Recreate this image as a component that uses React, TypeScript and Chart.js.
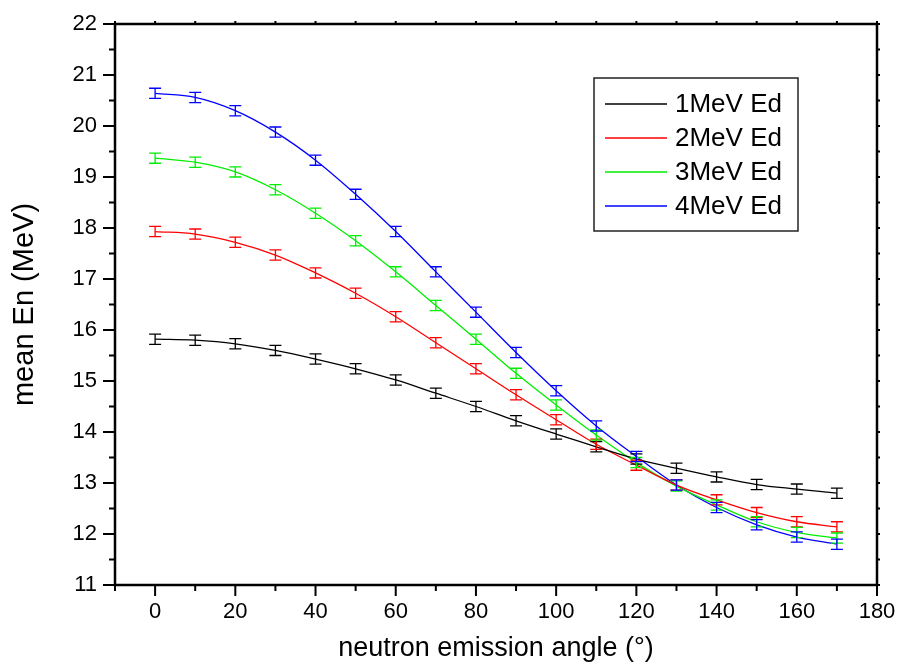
import React, { useEffect, useRef } from "react";
import { Chart, registerables } from "chart.js";

Chart.register(...registerables);

const ANGLES = [0, 10, 20, 30, 40, 50, 60, 70, 80, 90, 100, 110, 120, 130, 140, 150, 160, 170];
const E1 = [15.82, 15.80, 15.73, 15.60, 15.43, 15.24, 15.02, 14.76, 14.50, 14.22, 13.96, 13.71, 13.47, 13.29, 13.12, 12.97, 12.88, 12.80];
const E2 = [17.93, 17.88, 17.72, 17.47, 17.12, 16.72, 16.26, 15.75, 15.24, 14.73, 14.24, 13.76, 13.35, 12.96, 12.67, 12.42, 12.24, 12.14];
const E3 = [19.37, 19.29, 19.10, 18.75, 18.29, 17.75, 17.14, 16.48, 15.82, 15.15, 14.53, 13.94, 13.40, 12.94, 12.57, 12.24, 12.03, 11.92];
const E4 = [20.64, 20.56, 20.30, 19.88, 19.33, 18.66, 17.93, 17.14, 16.35, 15.56, 14.81, 14.12, 13.52, 12.96, 12.52, 12.18, 11.94, 11.80];
const ERR1 = [0.1, 0.1, 0.1, 0.1, 0.1, 0.1, 0.1, 0.1, 0.1, 0.1, 0.1, 0.1, 0.1, 0.1, 0.1, 0.1, 0.1, 0.1];
const ERR2 = [0.1, 0.1, 0.1, 0.1, 0.1, 0.1, 0.1, 0.1, 0.1, 0.1, 0.1, 0.1, 0.1, 0.1, 0.1, 0.1, 0.1, 0.1];
const ERR3 = [0.1, 0.1, 0.1, 0.1, 0.1, 0.1, 0.1, 0.1, 0.1, 0.1, 0.1, 0.1, 0.1, 0.1, 0.1, 0.1, 0.1, 0.1];
const ERR4 = [0.1, 0.1, 0.1, 0.1, 0.1, 0.1, 0.1, 0.1, 0.1, 0.1, 0.1, 0.1, 0.1, 0.1, 0.1, 0.1, 0.1, 0.1];
const LABELS = ["1MeV Ed", "2MeV Ed", "3MeV Ed", "4MeV Ed"];
const COLORS = ["#000000", "#ff0000", "#00ee00", "#0000ff"];
const X_TICKS = [0, 20, 40, 60, 80, 100, 120, 140, 160, 180];
const Y_TICKS = [11, 12, 13, 14, 15, 16, 17, 18, 19, 20, 21, 22];

const FONT = "'Liberation Sans', Arial, sans-serif";

const overlayPlugin = {
  id: "overlay",
  afterDatasetsDraw(chart: any) {
    const ctx = chart.ctx;
    const xs = chart.scales.x;
    const ys = chart.scales.y;
    const area = chart.chartArea;
    ctx.save();
    // error bars
    chart.data.datasets.forEach((ds: any) => {
      ctx.strokeStyle = ds.borderColor;
      ctx.lineWidth = 1.3;
      ds.data.forEach((p: any, i: number) => {
        const e = ds.errors[i];
        const px = xs.getPixelForValue(p.x);
        const y1 = ys.getPixelForValue(p.y + e);
        const y2 = ys.getPixelForValue(p.y - e);
        ctx.beginPath();
        ctx.moveTo(px, y1);
        ctx.lineTo(px, y2);
        ctx.moveTo(px - 6, y1);
        ctx.lineTo(px + 6, y1);
        ctx.moveTo(px - 6, y2);
        ctx.lineTo(px + 6, y2);
        ctx.stroke();
      });
    });
    // frame
    ctx.strokeStyle = "#000";
    ctx.lineWidth = 2.5;
    ctx.strokeRect(area.left, area.top, area.right - area.left, area.bottom - area.top);
    // ticks
    ctx.lineWidth = 2;
    ctx.beginPath();
    for (let v = -10; v <= 180; v += 10) {
      const px = xs.getPixelForValue(v);
      const len = v % 20 === 0 ? 11 : 6;
      ctx.moveTo(px, area.bottom);
      ctx.lineTo(px, area.bottom + len);
      ctx.moveTo(px, area.top);
      ctx.lineTo(px, area.top - 3);
    }
    for (let v = 11; v <= 22.001; v += 0.5) {
      const py = ys.getPixelForValue(v);
      const len = Math.abs(v - Math.round(v)) < 0.01 ? 12 : 6;
      ctx.moveTo(area.left, py);
      ctx.lineTo(area.left - len, py);
      ctx.moveTo(area.right, py);
      ctx.lineTo(area.right + 3, py);
    }
    ctx.stroke();
    // legend
    const bx = area.right - 283;
    const by = area.top + 54;
    const bw = 204;
    const bh = 153;
    ctx.lineWidth = 1.5;
    ctx.strokeStyle = "#222";
    ctx.fillStyle = "#fff";
    ctx.fillRect(bx, by, bw, bh);
    ctx.strokeRect(bx, by, bw, bh);
    ctx.font = "26px " + FONT;
    ctx.textBaseline = "middle";
    ctx.textAlign = "left";
    chart.data.datasets.forEach((ds: any, i: number) => {
      const ry = by + 26 + i * 34;
      ctx.strokeStyle = ds.borderColor;
      ctx.lineWidth = 1.3;
      ctx.beginPath();
      ctx.moveTo(bx + 11, ry);
      ctx.lineTo(bx + 73, ry);
      ctx.stroke();
      ctx.fillStyle = "#000";
      ctx.fillText(ds.label, bx + 81, ry + 1);
    });
    ctx.restore();
  },
};

export default function App() {
  const ref = useRef<HTMLCanvasElement | null>(null);
  useEffect(() => {
    document.body.style.margin = "0";
    const series = [E1, E2, E3, E4];
    const errs = [ERR1, ERR2, ERR3, ERR4];
    const chart = new Chart(ref.current as HTMLCanvasElement, {
      type: "line",
      data: {
        datasets: series.map((s, k) => ({
          label: LABELS[k],
          data: ANGLES.map((a, i) => ({ x: a, y: s[i] })),
          errors: errs[k],
          borderColor: COLORS[k],
          backgroundColor: COLORS[k],
          borderWidth: 1.3,
          pointRadius: 0,
          tension: 0.35,
          fill: false,
        })) as any,
      },
      options: {
        animation: false,
        responsive: false,
        events: [],
        layout: { padding: { top: 24, right: 21, left: 0, bottom: 0 } },
        plugins: { legend: { display: false }, tooltip: { enabled: false } },
        scales: {
          x: {
            type: "linear",
            min: -10,
            max: 180,
            afterBuildTicks: (s: any) => {
              s.ticks = X_TICKS.map((v) => ({ value: v }));
            },
            afterFit: (s: any) => {
              s.height = 85;
              s.paddingLeft = 0;
              s.paddingRight = 0;
            },
            grid: { display: false, drawTicks: false },
            border: { display: false },
            ticks: {
              padding: 14,
              color: "#000",
              font: { family: FONT, size: 22 },
              maxRotation: 0,
              autoSkip: false,
            },
            title: {
              display: true,
              text: "neutron emission angle (°)",
              color: "#000",
              font: { family: FONT, size: 27 },
              padding: { top: 0, bottom: 5 },
            },
          },
          y: {
            type: "linear",
            min: 11,
            max: 22,
            afterBuildTicks: (s: any) => {
              s.ticks = Y_TICKS.map((v) => ({ value: v }));
            },
            afterFit: (s: any) => {
              s.width = 115;
              s.paddingTop = 0;
              s.paddingBottom = 0;
            },
            grid: { display: false, drawTicks: false },
            border: { display: false },
            ticks: {
              padding: 18,
              color: "#000",
              font: { family: FONT, size: 22 },
              autoSkip: false,
            },
            title: {
              display: true,
              text: "mean En (MeV)",
              color: "#000",
              font: { family: FONT, size: 29 },
              padding: { top: 8, bottom: 0 },
            },
          },
        },
      } as any,
      plugins: [overlayPlugin],
    });
    return () => chart.destroy();
  }, []);
  return <canvas ref={ref} width={898} height={670} style={{ display: "block" }} />;
}
